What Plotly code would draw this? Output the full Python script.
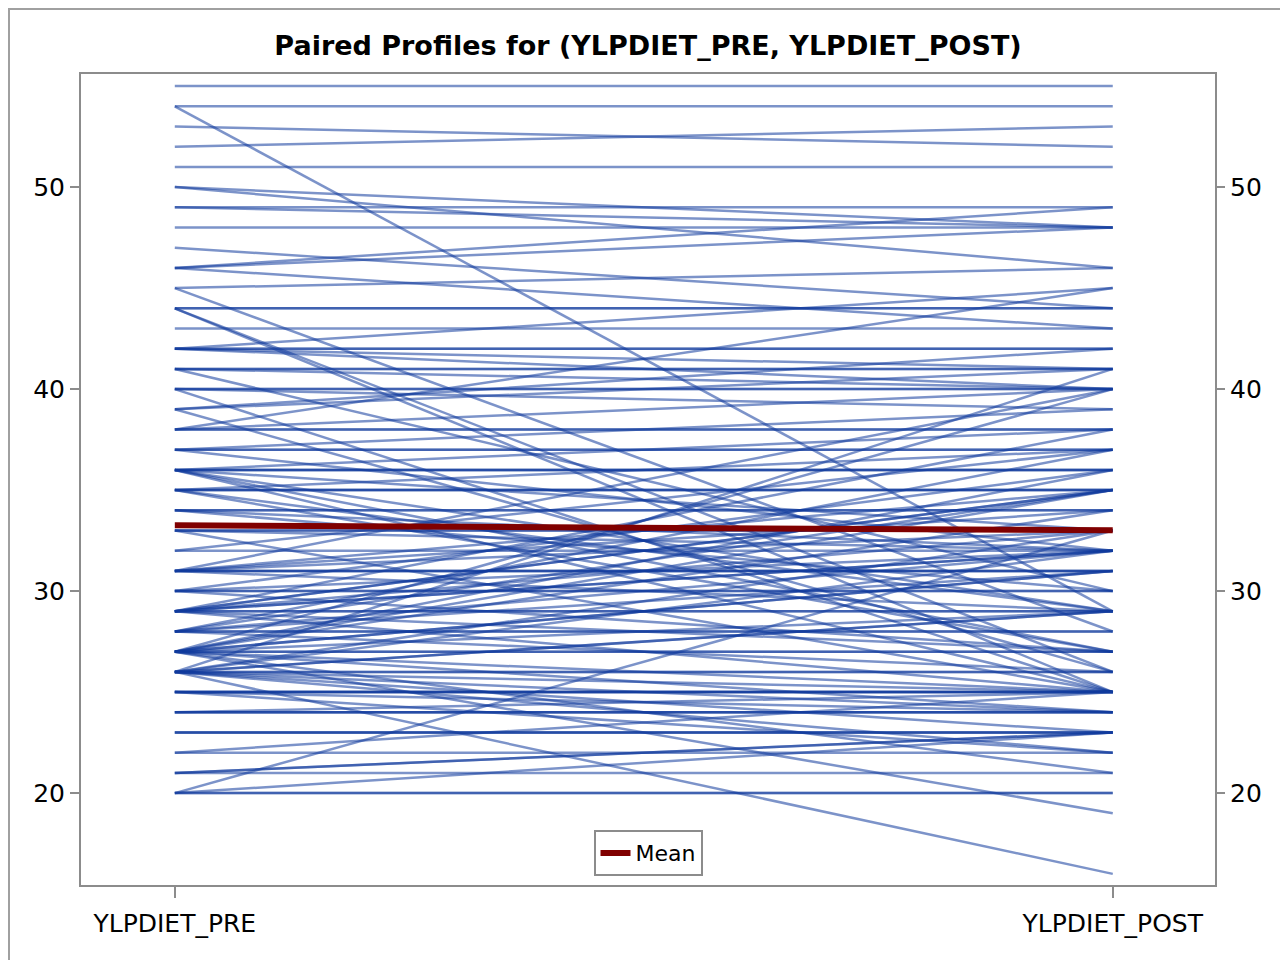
import plotly.graph_objects as go

# paired measurements, one entry per subject (pre[i] -> post[i])
pre = [55, 54, 54, 53, 52, 51, 50, 50, 49, 49, 48, 47, 46, 46, 46, 45, 45,
       44, 44, 44, 44, 43, 42, 42, 42, 42, 42, 41, 41, 41, 41, 40, 40, 40, 40,
       39, 39, 39, 38, 38, 38, 38, 31,
       37, 37, 37, 29, 37,
       36, 36, 36, 36, 28, 27, 36, 29, 36, 36, 36,
       35, 35, 35, 35, 26, 27, 35, 35,
       34, 34, 34, 34, 27,
       33, 33, 33, 26, 33,
       32, 32,
       31, 31, 31, 31, 31, 31, 31,
       30, 30, 30, 30, 30,
       29, 29, 29, 29, 29, 29, 29, 29,
       28, 28, 28, 28, 28, 28,
       27, 27, 27, 27, 27, 27, 27, 27, 27, 27,
       26, 26, 26, 26, 26, 26, 26, 26, 26, 26,
       25, 25, 25, 25, 25, 25,
       24, 24, 24, 24,
       23, 23, 23,
       22, 22,
       21, 21, 21,
       20, 20, 20, 20]
post = [55, 54, 29, 52, 53, 51, 48, 46, 49, 48, 48, 44, 49, 48, 43, 46, 28,
        44, 44, 26, 25, 43, 45, 42, 42, 41, 40, 41, 41, 40, 30, 40, 40, 39, 25,
        42, 26, 41, 45, 38, 38, 40, 34,
        37, 37, 39, 35, 32,
        36, 36, 36, 38, 35, 34, 33, 32, 29, 27, 25,
        35, 35, 35, 37, 33, 31, 29, 27,
        34, 34, 32, 30, 36,
        33, 33, 32, 29, 25,
        32, 37,
        31, 31, 31, 33, 35, 40, 29,
        30, 30, 32, 36, 27,
        29, 29, 32, 33, 35, 38, 27, 25,
        28, 28, 31, 32, 37, 26,
        27, 27, 31, 35, 40, 29, 25, 24, 21, 19,
        26, 26, 29, 32, 25, 24, 23, 22, 16, 41,
        25, 25, 25, 25, 24, 22,
        24, 24, 24, 25,
        23, 23, 23,
        22, 25,
        21, 23, 23,
        20, 20, 33, 23]

x_cats = ["YLPDIET_PRE", "YLPDIET_POST"]
y_ticks = [20, 30, 40, 50]

mean_pre = sum(pre) / len(pre)
mean_post = sum(post) / len(post)

fig = go.Figure()

# one trace per subject so that overlapping lines get darker
for a, b in zip(pre, post):
    fig.add_trace(go.Scatter(x=[0, 1], y=[a, b], mode="lines",
                             line=dict(color="rgba(16,58,156,0.55)", width=2.5),
                             showlegend=False, hoverinfo="skip"))

fig.add_trace(go.Scatter(x=[0, 1], y=[mean_pre, mean_post], mode="lines",
                         name="Mean", line=dict(color="#800000", width=6)))

# invisible trace so the right-hand axis is drawn
fig.add_trace(go.Scatter(x=[0, 1], y=[mean_pre, mean_post], yaxis="y2",
                         mode="lines", line=dict(color="rgba(0,0,0,0)"),
                         showlegend=False, hoverinfo="skip"))

font = "DejaVu Sans"
yrange = [15.45, 55.6]
grey = "#8c8c8c"

# page body has an 8px margin, so the figure is a bit smaller and shifted
fig.update_layout(
    width=1280, height=952,
    margin=dict(l=73, r=73, t=66, b=75),
    plot_bgcolor="white", paper_bgcolor="white",
    font=dict(family=font, size=26, color="black"),
    title=dict(text="<b>Paired Profiles for (YLPDIET_PRE, YLPDIET_POST)</b>",
               x=0.5, xanchor="center", y=0.961, yanchor="middle",
               font=dict(family=font, size=27, color="black")),
    xaxis=dict(range=[-0.1, 1.109], tickvals=[0, 1], ticktext=x_cats,
               showgrid=False, zeroline=False, showline=True, mirror=True,
               linecolor=grey, linewidth=2, ticks="outside", ticklen=11,
               tickcolor=grey, tickwidth=2, tickfont=dict(size=25),
               ticklabelstandoff=4),
    yaxis=dict(range=yrange, tickvals=y_ticks, showgrid=False, zeroline=False,
               showline=True, mirror=True, linecolor=grey, linewidth=2,
               ticks="outside", ticklen=9, tickcolor=grey, tickwidth=2,
               tickfont=dict(size=25)),
    yaxis2=dict(range=yrange, tickvals=y_ticks, overlaying="y", side="right",
                showgrid=False, zeroline=False, showline=False,
                ticks="outside", ticklen=9, tickcolor=grey, tickwidth=2,
                tickfont=dict(size=25)),
    legend=dict(x=0.5, xanchor="center", y=0.011, yanchor="bottom",
                bordercolor=grey, borderwidth=2, bgcolor="white",
                font=dict(size=22)),
)

# outer frame around the whole graph (bottom edge runs off the page)
fig.add_shape(type="rect", xref="paper", yref="paper",
              x0=-0.0635, x1=1.0617, y0=-0.11, y1=1.0801,
              line=dict(color="#a0a0a0", width=2))

fig.write_html("out.html")
